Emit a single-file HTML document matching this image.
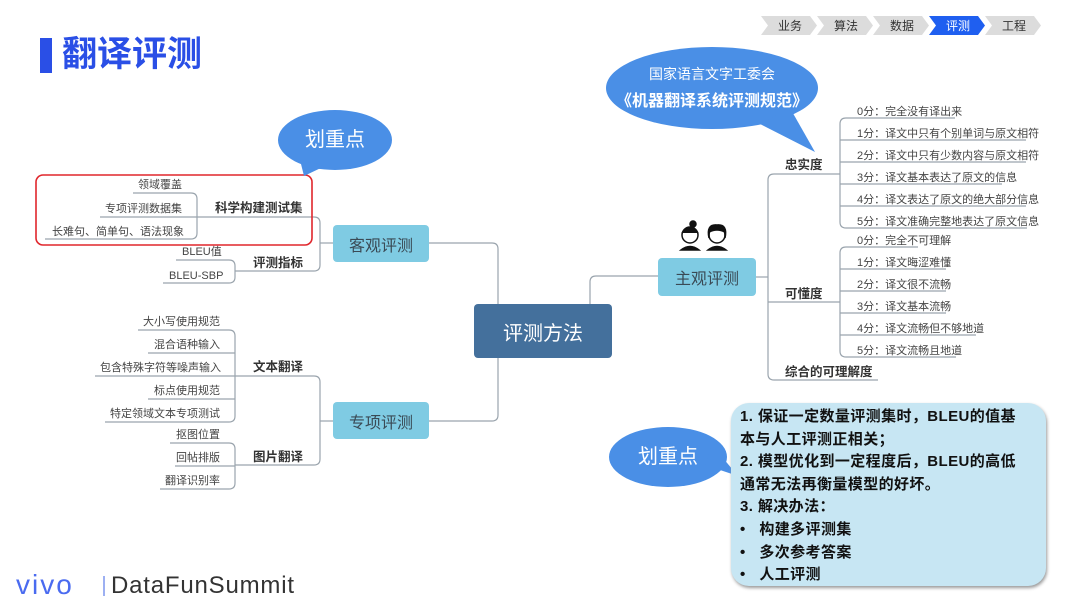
<!DOCTYPE html>
<html><head><meta charset="utf-8"><style>
body{margin:0;width:1080px;height:608px;background:#fff;position:relative;overflow:hidden;font-family:"Liberation Sans","Noto Sans CJK SC",sans-serif;}
.t{position:absolute;white-space:nowrap;color:#444;font-size:11px;line-height:12px;}
.b{font-weight:bold;font-size:12.5px;color:#333;line-height:14px;}
.node{position:absolute;background:#7fcbe3;border-radius:4px;color:#3a4a55;font-size:16px;display:flex;align-items:center;justify-content:center;}
</style></head><body>
<svg width="1080" height="608" style="position:absolute;left:0;top:0">
<g fill="none" stroke="#9aa4ad" stroke-width="1.2">
<path d="M429 243 H492 Q498 243 498 249 V304"/>
<path d="M429 421 H492 Q498 421 498 415 V358"/>
<path d="M590 304 V282 Q590 276 596 276 H659"/>
<path d="M333 243 H320"/>
<path d="M200 217 H314 Q320 217 320 223 V265 Q320 271 314 271 H235"/>
<path d="M133 193 H191 Q197 193 197 199 V233 Q197 239 191 239 H45"/>
<path d="M100 217 H200"/>
<path d="M176 260 H229 Q235 260 235 266 V277 Q235 283 229 283 H163"/>
<path d="M333 421 H320"/>
<path d="M235 376 H314 Q320 376 320 382 V459 Q320 465 314 465 H235"/>
<path d="M138 330 H229 Q235 330 235 336 V416 Q235 422 229 422 H105"/>
<path d="M148 353 H235 M95 376 H235 M148 399 H235"/>
<path d="M170 443 H229 Q235 443 235 449 V483 Q235 489 229 489 H160"/>
<path d="M175 466 H235"/>
<path d="M756 277 H768"/>
<path d="M840 174 H774 Q768 174 768 180 V374 Q768 380 774 380 H878"/>
<path d="M768 302 H840"/>
<path d="M955 118 H846 Q840 118 840 124 V222 Q840 228 846 228 H1027"/>
<path d="M840 140 H1026 M840 162 H1026 M840 184 H1002 M840 206 H1026"/>
<path d="M918 247 H846 Q840 247 840 253 V351 Q840 357 846 357 H956"/>
<path d="M840 269 H946 M840 291 H946 M840 313 H946 M840 335 H976"/>
</g>
<rect x="36" y="175" width="276" height="70" rx="7" fill="none" stroke="#e0262c" stroke-width="1.6"/>
<g fill="#4a8fe6">
<ellipse cx="712" cy="88" rx="106" ry="41"/>
<path d="M790 108 L815 152 L760 124 Z"/>
<ellipse cx="335" cy="140" rx="57" ry="30"/>
<path d="M300 160 L304 176 L325 166 Z"/>
<ellipse cx="668" cy="457" rx="59" ry="30"/>
<path d="M705 465 L738 476 L712 445 Z"/>
</g>
<g font-size="12" text-anchor="middle" font-family="Liberation Sans,Noto Sans CJK SC,sans-serif">
<path d="M761 16 H810 L817 25.5 L810 35 H761 L768 25.5Z" fill="#dcdcdc"/><text x="790" y="30" fill="#333">业务</text>
<path d="M817 16 H866 L873 25.5 L866 35 H817 L824 25.5Z" fill="#dcdcdc"/><text x="846" y="30" fill="#333">算法</text>
<path d="M873 16 H922 L929 25.5 L922 35 H873 L880 25.5Z" fill="#dcdcdc"/><text x="902" y="30" fill="#333">数据</text>
<path d="M929 16 H978 L985 25.5 L978 35 H929 L936 25.5Z" fill="#1f5ff0"/><text x="958" y="30" fill="#fff">评测</text>
<path d="M985 16 H1034 L1041 25.5 L1034 35 H985 L992 25.5Z" fill="#dcdcdc"/><text x="1014" y="30" fill="#333">工程</text>
</g>
<g stroke="#111" stroke-width="1.5">
<circle cx="690" cy="235" r="8" fill="#fff"/><path d="M682 233 Q690 222 698 233" fill="#111"/><circle cx="693" cy="224" r="3" fill="#111"/>
<path d="M681 250 Q690 243 699 250Z" fill="#111"/>
<circle cx="717" cy="235" r="8" fill="#fff"/><path d="M709 238 Q706 224 717 225 Q728 224 725 238 L725 232 Q717 228 709 232Z" fill="#111"/>
<path d="M708 250 Q717 243 726 250Z" fill="#111"/>
</g>
<line x1="104" y1="576" x2="104" y2="596" stroke="#5b7be8" stroke-width="1.2"/>
</svg>
<div style="position:absolute;left:40px;top:38px;width:12px;height:35px;background:#2a4fe6"></div>
<div class="t" style="left:62px;top:34px;font-size:35px;line-height:42px;font-weight:bold;color:#2a4fe6">翻译评测</div>

<div class="t" style="left:606px;top:66px;width:212px;text-align:center;color:#fff;font-size:14px;line-height:16px">国家语言文字工委会</div>
<div class="t" style="left:606px;top:93px;width:212px;text-align:center;color:#fff;font-size:16px;line-height:18px;font-weight:bold">《机器翻译系统评测规范》</div>
<div class="t" style="left:278px;top:128px;width:114px;text-align:center;color:#fff;font-size:20px;line-height:24px">划重点</div>
<div class="t" style="left:609px;top:445px;width:118px;text-align:center;color:#fff;font-size:20px;line-height:24px">划重点</div>

<div class="node" style="left:474px;top:304px;width:138px;height:54px;background:#44709c;color:#fff;font-size:20px">评测方法</div>
<div class="node" style="left:333px;top:225px;width:96px;height:37px">客观评测</div>
<div class="node" style="left:333px;top:402px;width:96px;height:37px">专项评测</div>
<div class="node" style="left:658px;top:258px;width:98px;height:38px">主观评测</div>

<div class="t b" style="left:215px;top:201px">科学构建测试集</div>
<div class="t b" style="left:253px;top:256px">评测指标</div>
<div class="t" style="left:138px;top:179px">领域覆盖</div>
<div class="t" style="left:105px;top:203px">专项评测数据集</div>
<div class="t" style="left:52px;top:226px">长难句、简单句、语法现象</div>
<div class="t" style="left:182px;top:246px">BLEU值</div>
<div class="t" style="left:169px;top:270px">BLEU-SBP</div>

<div class="t b" style="left:253px;top:360px">文本翻译</div>
<div class="t b" style="left:253px;top:450px">图片翻译</div>
<div class="t" style="left:143px;top:316px">大小写使用规范</div>
<div class="t" style="left:154px;top:339px">混合语种输入</div>
<div class="t" style="left:100px;top:362px">包含特殊字符等噪声输入</div>
<div class="t" style="left:154px;top:385px">标点使用规范</div>
<div class="t" style="left:110px;top:408px">特定领域文本专项测试</div>
<div class="t" style="left:176px;top:429px">抠图位置</div>
<div class="t" style="left:176px;top:452px">回帖排版</div>
<div class="t" style="left:165px;top:475px">翻译识别率</div>

<div class="t b" style="left:785px;top:158px">忠实度</div>
<div class="t b" style="left:785px;top:287px">可懂度</div>
<div class="t b" style="left:785px;top:365px">综合的可理解度</div>
<div class="t" style="left:857px;top:106px">0分：完全没有译出来</div>
<div class="t" style="left:857px;top:128px">1分：译文中只有个别单词与原文相符</div>
<div class="t" style="left:857px;top:150px">2分：译文中只有少数内容与原文相符</div>
<div class="t" style="left:857px;top:172px">3分：译文基本表达了原文的信息</div>
<div class="t" style="left:857px;top:194px">4分：译文表达了原文的绝大部分信息</div>
<div class="t" style="left:857px;top:216px">5分：译文准确完整地表达了原文信息</div>
<div class="t" style="left:857px;top:235px">0分：完全不可理解</div>
<div class="t" style="left:857px;top:257px">1分：译文晦涩难懂</div>
<div class="t" style="left:857px;top:279px">2分：译文很不流畅</div>
<div class="t" style="left:857px;top:301px">3分：译文基本流畅</div>
<div class="t" style="left:857px;top:323px">4分：译文流畅但不够地道</div>
<div class="t" style="left:857px;top:345px">5分：译文流畅且地道</div>

<div style="position:absolute;left:731px;top:403px;width:315px;height:183px;background:#c7e6f3;border-radius:18px;box-shadow:1px 2px 3px #999;"></div>
<div style="position:absolute;left:740px;top:406px;font-size:15px;line-height:22.6px;letter-spacing:0.4px;font-weight:bold;color:#111;white-space:nowrap">
1. 保证一定数量评测集时，BLEU的值基<br>本与人工评测正相关；<br>2. 模型优化到一定程度后，BLEU的高低<br>通常无法再衡量模型的好坏。<br>3. 解决办法：<br>•&nbsp;&nbsp;&nbsp;构建多评测集<br>•&nbsp;&nbsp;&nbsp;多次参考答案<br>•&nbsp;&nbsp;&nbsp;人工评测</div>

<div class="t" style="left:16px;top:570px;font-size:28px;line-height:30px;color:#4a6bf0;letter-spacing:2px">vivo</div>
<div class="t" style="left:111px;top:572px;font-size:24px;line-height:27px;color:#333;letter-spacing:0.8px">DataFunSummit</div>
</body></html>
